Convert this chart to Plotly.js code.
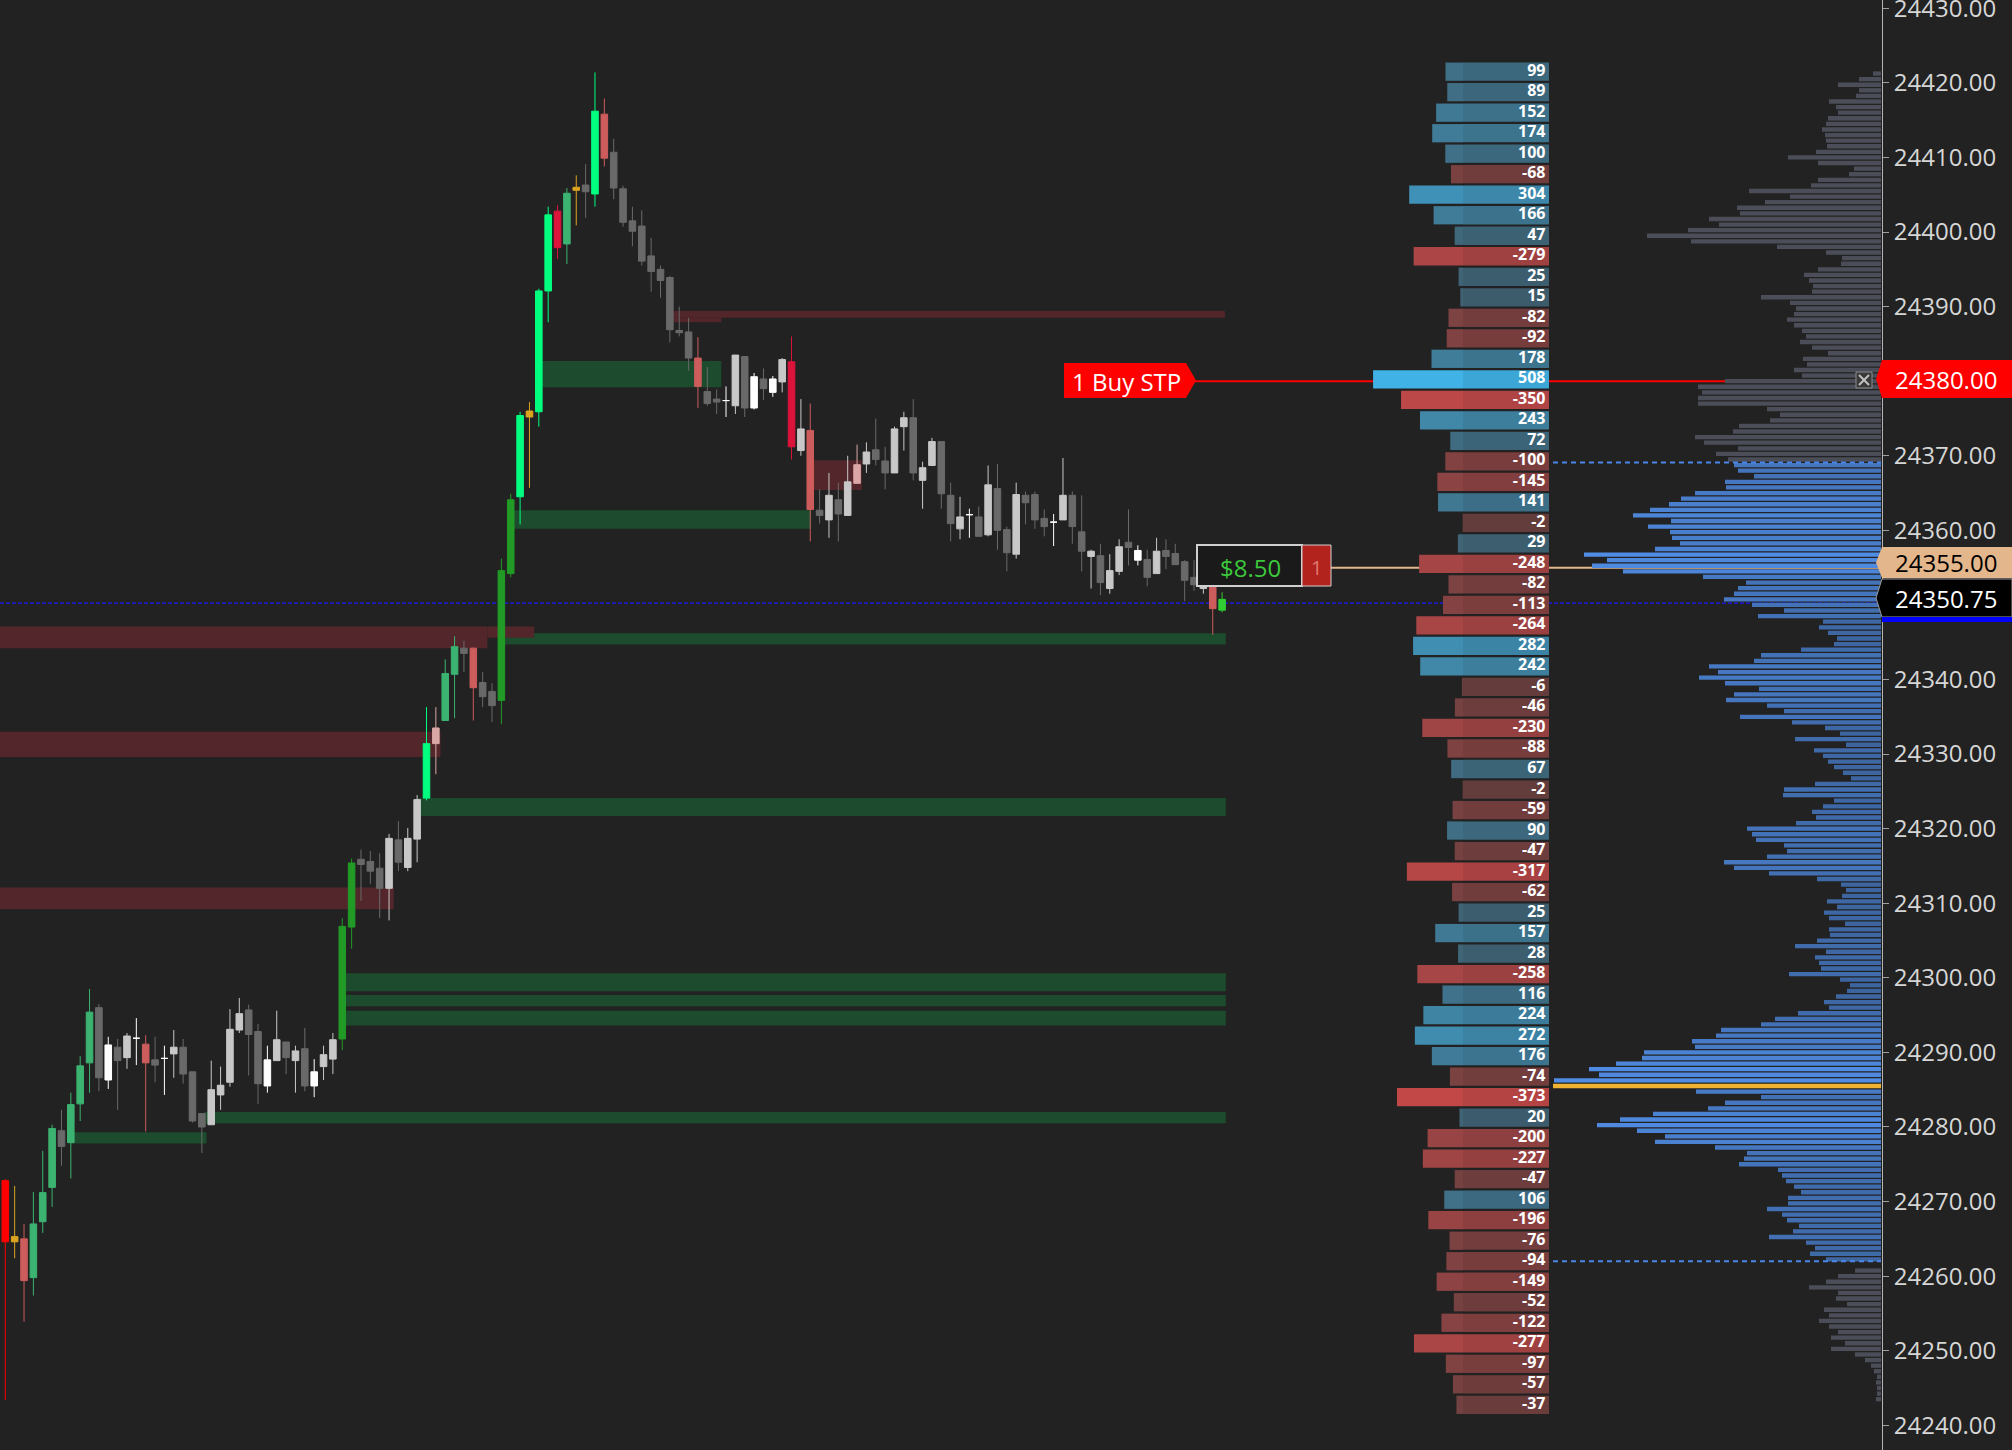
<!DOCTYPE html>
<html><head><meta charset="utf-8">
<script src="https://cdn.plot.ly/plotly-3.0.1.min.js"></script>
<style>html,body{margin:0;padding:0;background:#222222;overflow:hidden}#chart{width:2012px;height:1450px}</style>
</head><body><div id="chart"></div>
<script>
// ---------------- DATA ----------------
const openP = [24272.8,24265.3,24265.0,24259.8,24267.3,24271.9,24279.5,24277.9,24283.1,24288.6,
 24296.0,24286.3,24290.7,24289.3,24291.9,24291.1,24289.0,24289.2,24289.8,24290.7,
 24287.4,24281.8,24280.3,24284.3,24286.0,24293.0,24295.7,24292.8,24285.5,24288.9,
 24291.4,24288.9,24290.5,24285.5,24288.1,24289.1,24291.8,24306.8,24315.9,24315.6,
 24314.7,24312.0,24318.5,24314.8,24318.6,24324.1,24333.5,24334.5,24340.7,24344.2,
 24344.2,24339.6,24338.4,24337.2,24354.2,24364.5,24376.0,24375.9,24392.1,24402.8,
 24398.4,24406.0,24406.3,24405.1,24415.8,24410.7,24405.8,24401.5,24400.8,24396.8,
 24395.0,24393.9,24386.8,24386.6,24383.1,24378.6,24377.6,24377.4,24376.7,24383.3,
 24376.4,24380.3,24378.5,24379.9,24382.6,24370.7,24373.4,24362.7,24361.4,24364.1,
 24362.0,24368.8,24368.9,24370.8,24369.3,24367.7,24373.9,24375.1,24366.7,24368.7,
 24371.9,24364.7,24360.2,24362.1,24361.8,24359.4,24365.6,24360.1,24356.8,24364.7,
 24364.8,24361.6,24361.1,24361.4,24364.7,24359.8,24356.5,24356.6,24352.2,24354.5,
 24358.4,24356.0,24356.1,24354.2,24357.3,24356.9,24355.8,24353.7,24352.2,24352.5,
 24349.3];
const highP = [24273.0,24272.1,24267.0,24271.3,24276.8,24280.3,24282.3,24284.6,24289.5,24298.5,
 24296.5,24292.1,24291.8,24292.6,24294.6,24292.3,24292.1,24290.9,24293.0,24291.8,
 24287.4,24281.8,24288.9,24288.1,24295.8,24297.3,24296.4,24293.8,24290.9,24295.6,
 24291.4,24290.9,24293.3,24289.1,24290.9,24292.6,24308.0,24316.0,24317.2,24317.0,
 24316.7,24319.3,24321.0,24320.1,24324.5,24336.3,24336.3,24342.7,24345.8,24345.2,
 24344.3,24341.0,24339.5,24356.2,24364.9,24375.9,24377.2,24392.4,24403.4,24403.6,
 24405.9,24407.6,24409.1,24421.4,24417.9,24412.5,24406.2,24403.4,24402.9,24399.2,
 24395.5,24394.1,24390.0,24388.5,24385.9,24381.9,24378.9,24379.3,24383.5,24383.3,
 24381.1,24381.7,24380.7,24383.1,24386.0,24377.6,24377.0,24365.5,24367.7,24366.4,
 24370.0,24371.5,24371.8,24375.0,24371.2,24373.9,24375.9,24377.6,24369.2,24372.4,
 24371.9,24366.4,24364.5,24362.9,24363.2,24368.7,24368.9,24360.5,24366.4,24365.2,
 24365.2,24362.8,24362.2,24369.7,24365.2,24364.7,24357.4,24358.2,24356.8,24358.8,
 24362.8,24358.0,24357.4,24359.0,24358.8,24358.2,24356.0,24356.0,24353.2,24352.7,
 24351.7];
const lowP = [24243.4,24262.4,24253.9,24257.4,24265.8,24269.3,24274.8,24273.1,24280.8,24284.6,
 24284.8,24285.1,24282.3,24287.8,24288.3,24279.4,24286.0,24284.3,24286.6,24285.8,
 24280.6,24276.5,24280.3,24282.3,24285.4,24292.6,24286.9,24283.1,24284.6,24288.9,
 24287.1,24284.6,24284.8,24284.0,24286.3,24287.1,24290.3,24303.9,24310.3,24312.6,
 24308.0,24307.7,24314.3,24314.3,24315.5,24323.8,24327.3,24334.5,24334.8,24341.0,
 24334.5,24336.3,24334.3,24334.0,24353.7,24360.8,24365.7,24373.9,24387.9,24396.4,
 24395.7,24400.9,24401.9,24403.4,24408.8,24404.4,24400.7,24398.1,24395.5,24392.0,
 24391.2,24385.2,24386.0,24381.4,24376.4,24376.7,24375.6,24375.2,24375.6,24375.2,
 24376.2,24377.5,24377.9,24378.5,24369.5,24370.0,24358.5,24360.9,24359.0,24358.5,
 24362.0,24366.3,24367.7,24368.7,24365.5,24367.7,24370.7,24366.7,24362.9,24368.7,
 24362.9,24358.5,24358.8,24359.0,24359.2,24359.2,24357.4,24354.5,24356.2,24360.8,
 24360.2,24359.2,24357.9,24361.4,24358.2,24354.5,24352.2,24351.3,24351.5,24354.0,
 24355.3,24355.3,24352.5,24354.2,24354.8,24355.4,24350.5,24351.9,24351.5,24346.0,
 24349.0];
const closeP = [24264.6,24264.6,24259.4,24267.0,24271.2,24279.8,24277.4,24283.0,24288.2,24295.4,
 24286.6,24291.0,24288.9,24292.2,24291.9,24288.6,24288.3,24289.2,24290.7,24287.1,
 24280.8,24280.0,24285.0,24285.6,24293.1,24295.2,24292.4,24285.8,24289.0,24291.7,
 24289.3,24290.2,24285.5,24287.4,24289.7,24291.7,24306.9,24315.4,24315.2,24314.3,
 24312.0,24318.7,24315.5,24318.7,24323.9,24331.4,24331.4,24340.8,24344.4,24343.5,
 24338.9,24337.7,24336.5,24354.6,24364.1,24375.4,24375.2,24392.1,24402.3,24397.9,
 24405.2,24405.6,24405.4,24416.2,24409.9,24405.9,24401.3,24400.1,24396.1,24394.7,
 24393.5,24386.9,24386.5,24383.1,24379.3,24377.0,24377.2,24377.4,24383.5,24376.4,
 24380.6,24379.0,24380.3,24382.9,24371.2,24373.6,24362.8,24362.0,24364.7,24362.2,
 24366.5,24366.3,24370.5,24369.5,24367.7,24373.6,24375.1,24367.7,24368.4,24371.9,
 24364.9,24360.9,24361.8,24362.1,24359.2,24366.1,24360.0,24357.0,24364.8,24363.7,
 24361.4,24360.5,24361.1,24364.7,24360.5,24357.2,24357.2,24353.0,24354.6,24357.8,
 24357.7,24357.3,24353.7,24357.2,24356.5,24355.4,24353.3,24352.7,24352.7,24349.5,
 24350.75];
// candle colour class per bar
const candleClass = ("R Y S G G G D G G G " +
 "D W D L W S D W L D " +
 "D D L L L L D D W L " +
 "D L D W L L F F D D " +
 "D L D L L P K G G D " +
 "S D D F F P Y P P C " +
 "G Y D P S D D D D D " +
 "D D D D S D D W L D " +
 "W D W L C L S D L D " +
 "L K L D D L L D L L " +
 "D D L W D L D D L D " +
 "D D W L D D L D L L " +
 "D W D L D D D D L S " +
 "M").trim().split(/\s+/);
const classColor = {R:'#ff0000', Y:'#daa520', S:'#cd5c5c', G:'#3cb371', D:'#696969', L:'#c8c8c8',
  W:'#ffffff', F:'#229a26', P:'#00ff7f', K:'#dba6a6', C:'#dc143c', M:'#32cd32'};

// Delta ladder (2.75 pt rows from the top row)
const deltaTop = 24421.5, deltaStep = 2.75;
const deltaValues = [99,89,152,174,100,-68,304,166,47,-279,25,15,-82,-92,178,508,-350,243,72,-100,-145,141,-2,29,
 -248,-82,-113,-264,282,242,-6,-46,-230,-88,67,-2,-59,90,-47,-317,-62,25,157,28,-258,116,224,272,
 176,-74,-373,20,-200,-227,-47,106,-196,-76,-94,-149,-52,-122,-277,-97,-57,-37];

// Volume profile (0.75 pt rows from the top row)
const profileTop = 24421.25, profileStep = 0.75;
const profileVol = [8,22,43,22,25,52,45,43,53,55,59,56,55,54,65,93,63,27,32,63,70,132,91,116,144,141,172,162,193,234,
 190,104,55,39,40,63,77,72,68,69,120,91,85,87,94,87,79,75,81,69,53,78,74,87,79,156,183,179,183,183,
 114,101,111,142,148,186,177,143,165,153,147,143,127,156,155,186,200,212,231,248,210,233,211,209,201,226,
 297,274,289,258,178,135,143,147,157,129,97,123,58,62,53,44,47,80,120,127,172,163,182,156,122,147,155,
 114,97,141,89,56,41,86,35,67,58,53,47,38,30,66,97,98,47,58,69,65,85,134,129,125,97,94,114,157,147,
 112,64,40,35,39,54,44,57,52,36,52,51,64,86,55,66,62,60,92,41,31,34,45,57,52,83,106,120,160,165,189,
 186,237,239,265,292,282,327,328,185,120,156,173,228,261,284,244,216,226,166,134,137,142,103,99,95,87,80,
 93,93,114,99,94,82,88,112,75,66,71,55,0,26,43,55,72,43,45,34,57,52,62,52,43,50,36,50,26,16,10,7,4,5,4,4,5];
const vah = 24369.1, val = 24262.0, poc = 24285.5;

// Zones: [startBar, endBar, top, bottom]
const greenZones = [[57.2,76.5,24382.7,24379.2],[54.3,86.1,24362.7,24360.2],[53.1,130.4,24346.2,24344.7],
 [44.0,130.4,24324.1,24321.7],[36.4,130.4,24300.6,24298.2],[36.4,130.4,24297.7,24296.2],
 [36.4,130.4,24295.6,24293.6],[21.3,130.4,24282.0,24280.5],[7.0,21.5,24279.3,24277.8]];
const redZones = [[71.0,130.3,24389.4,24388.5],[71.0,76.5,24388.5,24387.9],[86.3,91.5,24369.4,24365.4],
 [-0.6,51.5,24347.1,24344.2],[51.5,56.5,24347.1,24345.6],[-0.6,46.5,24333.0,24329.6],[-0.6,41.5,24312.1,24309.2]];

const orderPrice = 24380.00, orderText = '1 Buy STP';
const entryPrice = 24355.00, pnlText = '$8.50', qtyText = '1';
const lastPrice = 24350.75, lastLine = 24350.25;
const axisTicks = [24240,24250,24260,24270,24280,24290,24300,24310,24320,24330,24340,24360,24370,24390,24400,24410,24420,24430];

// ---------------- GEOMETRY ----------------
const Y0 = 24236.69, Y1 = 24431.11, PW = 1882, PH = 1450;
const yAt = px => Y1 - px * (Y1 - Y0) / PH;
const xp = px => px / PW;
const DZ = 1549, DS = 0.177, BLOCK = 86 / 0.177;

// ---------------- TRACES ----------------
const idx = openP.map((_, i) => i);
const traces = [];
Object.keys(classColor).forEach(k => {
  const ii = idx.filter(i => candleClass[i] === k);
  if (!ii.length) return;
  const c = classColor[k];
  traces.push({type:'candlestick', x: ii, open: ii.map(i=>openP[i]), high: ii.map(i=>highP[i]),
    low: ii.map(i=>lowP[i]), close: ii.map(i=>closeP[i]), hoverinfo:'skip', whiskerwidth:0,
    increasing:{line:{color:c,width:1},fillcolor:c}, decreasing:{line:{color:c,width:1},fillcolor:c},
    xaxis:'x', yaxis:'y'});
});

const lerp = (a,b,t) => a.map((v,j)=>Math.round(v+(b[j]-v)*t));
const rgb = a => `rgb(${a[0]},${a[1]},${a[2]})`;
function deltaCol(d, k) {
  let c;
  if (d >= 0) c = lerp([64,96,112],[64,178,230],Math.min(d/508,1));
  else c = lerp([106,64,64],[194,72,72],Math.min(-d/373,1));
  return rgb(c.map(v=>Math.round(v*k)));
}
const deltaPrice = deltaValues.map((_, i) => deltaTop - i*deltaStep);
traces.push({type:'bar', orientation:'h', xaxis:'x2', yaxis:'y', y: deltaPrice, x: deltaValues.map(()=>BLOCK),
  base: 0, width: 2.45, marker:{color: deltaValues.map(d=>deltaCol(d,0.93)), line:{width:0}}, hoverinfo:'skip'});
traces.push({type:'bar', orientation:'h', xaxis:'x2', yaxis:'y', y: deltaPrice, x: deltaValues.map(d=>Math.abs(d)),
  base: BLOCK, width: 2.45, marker:{color: deltaValues.map(d=>deltaCol(d,1)), line:{width:0}}, hoverinfo:'skip'});
traces.push({type:'scatter', mode:'text', xaxis:'x2', yaxis:'y', y: deltaPrice, x: deltaValues.map(()=>20),
  text: deltaValues.map(String), textposition:'middle left', cliponaxis:false, marker:{size:1},
  textfont:{family:'Open Sans', size:16, color:'#ffffff', weight:700}, hoverinfo:'skip'});

const profPrice = profileVol.map((_, i) => profileTop - i*profileStep);
const profCol = profPrice.map((p, i) => {
  if (Math.abs(p - poc) < 0.01) return '#f0b232';
  if (p <= vah && p >= val) return rgb(lerp([58,95,150],[80,140,228], Math.min(profileVol[i]/300,1)));
  return '#4b4e58';
});
traces.push({type:'bar', orientation:'h', xaxis:'x3', yaxis:'y', y: profPrice, x: profileVol, base:0,
  width:0.58, marker:{color:profCol, line:{width:0}}, hoverinfo:'skip'});

// ---------------- SHAPES / LABELS ----------------
const shapes = [];
greenZones.forEach(z => shapes.push({type:'rect', xref:'x', yref:'y', x0:z[0], x1:z[1], y0:z[3], y1:z[2],
  fillcolor:'#1c4b2d', line:{width:0}, layer:'below'}));
redZones.forEach(z => shapes.push({type:'rect', xref:'x', yref:'y', x0:z[0], x1:z[1], y0:z[3], y1:z[2],
  fillcolor:'#52262a', line:{width:0}, layer:'below'}));
shapes.push({type:'line', xref:'paper', yref:'y', x0:xp(1195), x1:xp(1881), y0:orderPrice, y1:orderPrice,
  line:{color:'#ff0000', width:2}, layer:'below'});
shapes.push({type:'line', xref:'paper', yref:'y', x0:xp(1331), x1:xp(1881), y0:entryPrice, y1:entryPrice,
  line:{color:'#e3b68b', width:2}, layer:'below'});
shapes.push({type:'line', xref:'paper', yref:'y', x0:0, x1:xp(1881), y0:lastLine, y1:lastLine,
  line:{color:'#1a1aff', width:1.3, dash:'4px,2px'}, layer:'below'});
[vah, val].forEach(v => shapes.push({type:'line', xref:'paper', yref:'y', x0:xp(1553), x1:xp(1881), y0:v, y1:v,
  line:{color:'#4a86e8', width:2, dash:'5px,4px'}, layer:'above'}));

function tagPath(xTip, xL, xR, top, bot, tipRight) {
  const yc = (yAt(top) + yAt(bot)) / 2;
  if (tipRight) return `M ${xp(xL)},${yAt(top)} L ${xp(xR)},${yAt(top)} L ${xp(xTip)},${yc} L ${xp(xR)},${yAt(bot)} L ${xp(xL)},${yAt(bot)} Z`;
  return `M ${xp(xTip)},${yc} L ${xp(xL)},${yAt(top)} L ${xp(xR)},${yAt(top)} L ${xp(xR)},${yAt(bot)} L ${xp(xL)},${yAt(bot)} Z`;
}
shapes.push({type:'path', xref:'paper', yref:'y', path: tagPath(1196,1064,1186,363,398,true), fillcolor:'#ff0000', line:{width:0}, layer:'above'});
shapes.push({type:'rect', xref:'paper', yref:'y', x0:xp(1197), x1:xp(1302), y0:yAt(586), y1:yAt(545), fillcolor:'#1a1a1a', line:{color:'#cfcfcf', width:2}, layer:'above'});
shapes.push({type:'rect', xref:'paper', yref:'y', x0:xp(1302), x1:xp(1331), y0:yAt(586), y1:yAt(545), fillcolor:'#b3231e', line:{color:'#cfcfcf', width:1}, layer:'above'});
shapes.push({type:'rect', xref:'paper', yref:'y', x0:xp(1856), x1:xp(1872), y0:yAt(388), y1:yAt(372), fillcolor:'#3a3a3a', line:{color:'#8c8c8c', width:1}, layer:'above'});
shapes.push({type:'line', xref:'paper', yref:'y', x0:xp(1859), x1:xp(1869), y0:yAt(375), y1:yAt(385), line:{color:'#c0c0c0', width:2}, layer:'above'});
shapes.push({type:'line', xref:'paper', yref:'y', x0:xp(1859), x1:xp(1869), y0:yAt(385), y1:yAt(375), line:{color:'#c0c0c0', width:2}, layer:'above'});
const axisTags = [
  {price: orderPrice, bg:'#ff0000', fg:'#ffffff', top:360, bot:398, border:null},
  {price: entryPrice, bg:'#e3b68b', fg:'#000000', top:547, bot:578, border:null},
  {price: lastPrice, bg:'#000000', fg:'#ffffff', top:579, bot:617, border:'#9a9a9a'}
];
const annotations = [];
axisTags.forEach(t => {
  shapes.push({type:'path', xref:'paper', yref:'y', path: tagPath(1876,1882,2012,t.top,t.bot,false), fillcolor:t.bg,
    line: t.border ? {color:t.border, width:1} : {width:0}, layer:'above'});
  annotations.push({xref:'paper', yref:'y', x:xp(1893), y:(yAt(t.top)+yAt(t.bot))/2, xanchor:'left', yanchor:'middle',
    text: t.price.toFixed(2), showarrow:false, font:{family:'Open Sans', size:24, color:t.fg}});
});
shapes.push({type:'rect', xref:'paper', yref:'y', x0:xp(1882), x1:xp(2012), y0:yAt(622), y1:yAt(617), fillcolor:'#0000ff', line:{width:0}, layer:'above'});

annotations.push({xref:'paper', yref:'y', x:xp(1126), y:orderPrice, text:orderText, showarrow:false, xanchor:'center', yanchor:'middle',
  font:{family:'Open Sans', size:24, color:'#ffffff'}});
annotations.push({xref:'paper', yref:'y', x:xp(1250), y:entryPrice, text:pnlText, showarrow:false, xanchor:'center', yanchor:'middle',
  font:{family:'Open Sans', size:24, color:'#3cc83c'}});
annotations.push({xref:'paper', yref:'y', x:xp(1316.5), y:entryPrice, text:qtyText, showarrow:false, xanchor:'center', yanchor:'middle',
  font:{family:'Open Sans', size:20, color:'#e07a70'}});

const layout = {
  width:2012, height:1450, margin:{l:0, r:130, t:0, b:0, pad:0},
  paper_bgcolor:'#222222', plot_bgcolor:'#222222', showlegend:false,
  boxgap:0.3, boxgroupgap:0, barmode:'overlay', hovermode:false,
  xaxis:{range:[-5.3/9.36, (PW-5.3)/9.36], visible:false, rangeslider:{visible:false}, fixedrange:true},
  xaxis2:{overlaying:'x', anchor:'y', visible:false, range:[DZ/DS, (DZ-PW)/DS]},
  xaxis3:{overlaying:'x', anchor:'y', visible:false, range:[1881, 1881-PW]},
  yaxis:{side:'right', range:[Y0, Y1], tickmode:'array', tickvals:axisTicks, tickformat:'.2f', ticks:'outside', ticklen:6,
    tickcolor:'#a0a0a0', showline:true, linecolor:'#b4b4b4', linewidth:1, showgrid:false, zeroline:false,
    ticklabeloverflow:'allow', tickfont:{family:'Open Sans', size:24, color:'#d6d6d6'}},
  shapes, annotations
};
Plotly.newPlot('chart', traces, layout, {staticPlot:true, displayModeBar:false});
</script></body></html>
